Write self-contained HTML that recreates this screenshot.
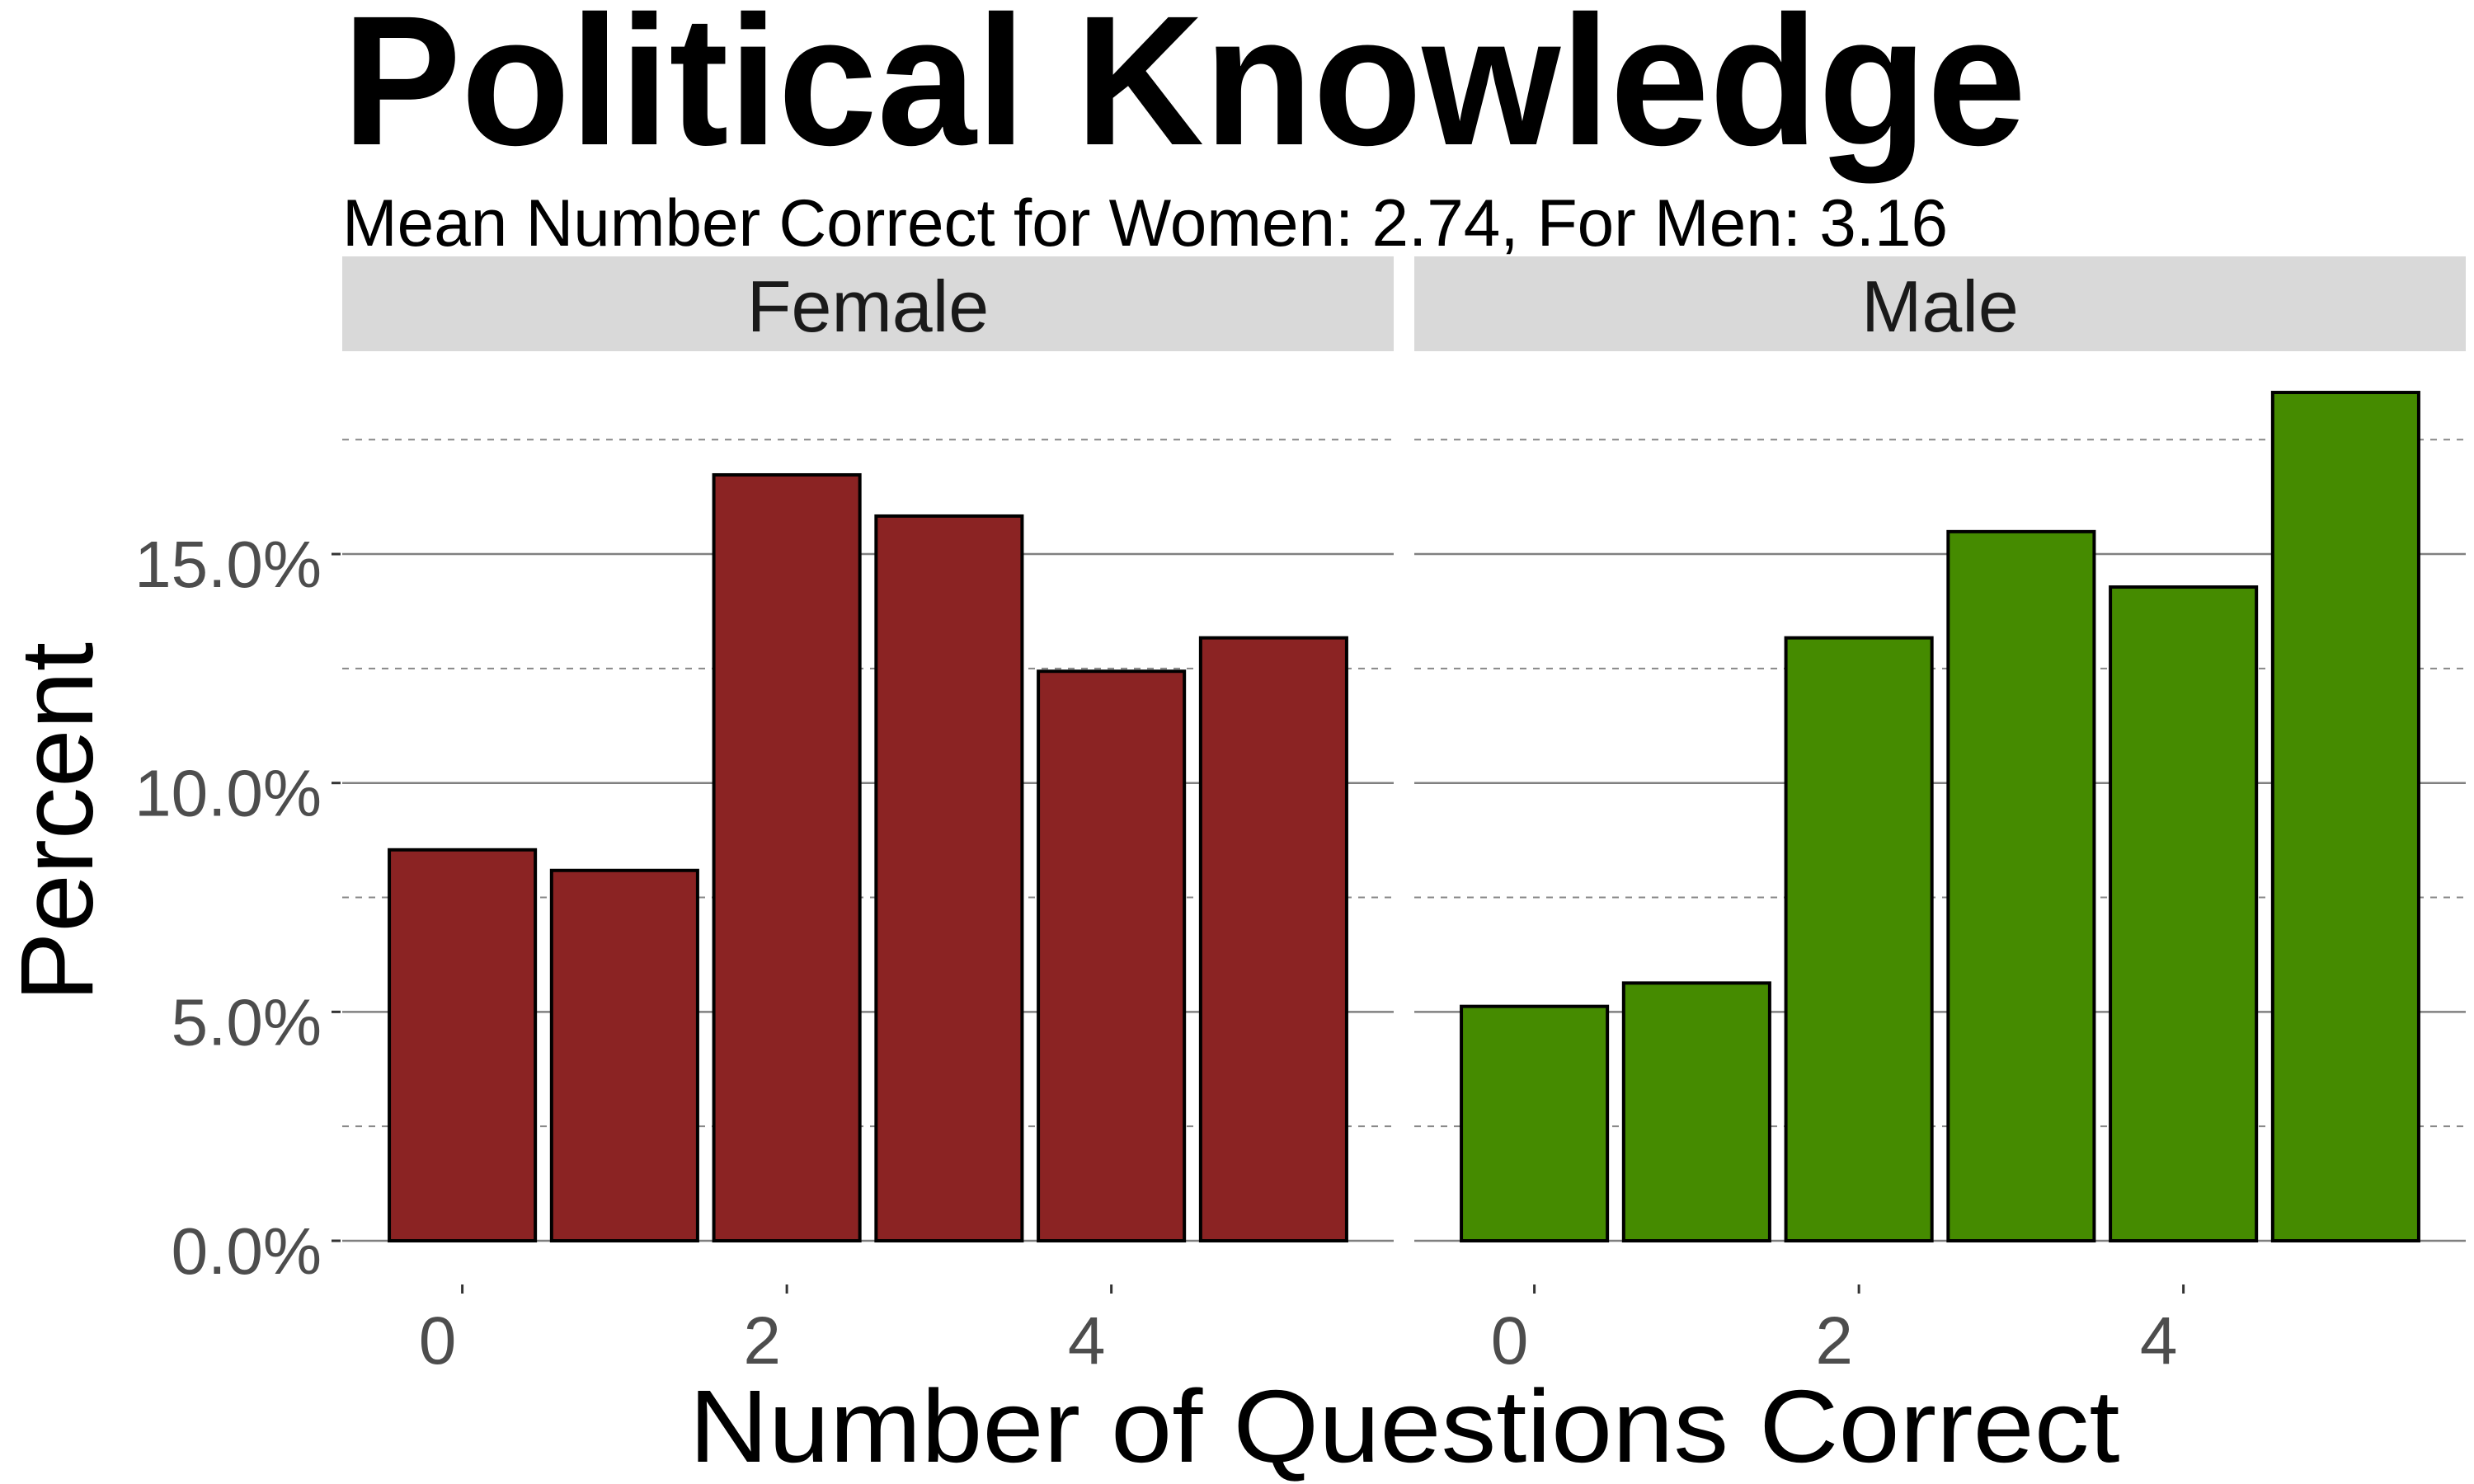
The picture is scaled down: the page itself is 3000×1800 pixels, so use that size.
<!DOCTYPE html>
<html><head><meta charset="utf-8"><style>html,body{margin:0;padding:0;background:#fff}svg{display:block}</style></head>
<body>
<svg id="chart" xmlns="http://www.w3.org/2000/svg" width="3000" height="1800" viewBox="0 0 3000 1800" font-family="Liberation Sans, sans-serif">
<rect width="3000" height="1800" fill="#fff"/>
<text x="415" y="175" font-size="224" font-weight="bold" textLength="2042" lengthAdjust="spacingAndGlyphs">Political Knowledge</text>
<text x="415" y="298" font-size="81" textLength="1947" lengthAdjust="spacingAndGlyphs">Mean Number Correct for Women: 2.74, For Men: 3.16</text>
<text transform="translate(112,997) rotate(-90)" text-anchor="middle" font-size="125" textLength="436" lengthAdjust="spacingAndGlyphs">Percent</text>
<text x="1703" y="1773" text-anchor="middle" font-size="125" textLength="1735" lengthAdjust="spacingAndGlyphs">Number of Questions Correct</text>
<g id="plot"></g>
</svg>
<script>
const categories = [0, 1, 2, 3, 4, 5];
const femaleValues = [8.54, 8.09, 16.73, 15.83, 12.44, 13.17];
const maleValues = [5.12, 5.63, 13.17, 15.49, 14.28, 18.53];
const yMajorTicks = [0, 5, 10, 15];
const yMinorTicks = [2.5, 7.5, 12.5, 17.5];
const yTickLabels = ["0.0%", "5.0%", "10.0%", "15.0%"];
const xTicks = [0, 2, 4];
const panelNames = ["Female", "Male"];

const NS = "http://www.w3.org/2000/svg";
const g = document.getElementById('plot');
const y0 = 1505, pxPerPct = 55.53, plotTop = 430;
const yScale = v => y0 - v * pxPerPct;
const panels = [
  {left: 415, right: 1690, values: femaleValues, fill: "#8B2323", key: "female"},
  {left: 1715, right: 2990, values: maleValues, fill: "#458B00", key: "male"}
];
const xMin = -0.74, xMax = 5.74;
function mk(tag, attrs) { const e = document.createElementNS(NS, tag); for (const k in attrs) e.setAttribute(k, attrs[k]); g.appendChild(e); return e; }

panels.forEach((p, pi) => {
  const xs = v => p.left + (v - xMin) / (xMax - xMin) * (p.right - p.left);
  // strip
  const s = mk('rect', {x: p.left, y: 311, width: p.right - p.left, height: 115, fill: "#d9d9d9"});
  
  
  const st = mk('text', {x: (p.left + p.right) / 2, y: 402, 'text-anchor': 'middle', 'font-size': 88, fill: "#1a1a1a"});
  st.textContent = panelNames[pi];
  
  
  // grid
  yMinorTicks.forEach(t => {
    const l = mk('line', {x1: p.left, x2: p.right, y1: yScale(t), y2: yScale(t), stroke: "#888", 'stroke-width': 2, 'stroke-dasharray': "8,8"});
    
    
  });
  yMajorTicks.forEach(t => {
    const l = mk('line', {x1: p.left, x2: p.right, y1: yScale(t), y2: yScale(t), stroke: "#808080", 'stroke-width': 2.5});
    
    
  });
  // bars
  categories.forEach((c, i) => {
    const v = p.values[i];
    const b = mk('rect', {x: xs(c - 0.45), y: yScale(v), width: xs(c + 0.45) - xs(c - 0.45), height: yScale(0) - yScale(v), fill: p.fill, stroke: "#000", 'stroke-width': 4});
    
    
  });
  // x ticks
  xTicks.forEach(t => {
    const tk = mk('line', {x1: xs(t), x2: xs(t), y1: 1558, y2: 1569, stroke: "#333", 'stroke-width': 3});
    
    
    const tl = mk('text', {x: xs(t) - 30, y: 1654, 'text-anchor': 'middle', 'font-size': 82, fill: "#4d4d4d"});
    tl.textContent = String(t);
    
    
  });
});
// y axis ticks & labels
yMajorTicks.forEach((t, i) => {
  const tk = mk('line', {x1: 402, x2: 413, y1: yScale(t), y2: yScale(t), stroke: "#333", 'stroke-width': 3});
  
  
  const tl = mk('text', {x: 390, y: yScale(t) + 40, 'text-anchor': 'end', 'font-size': 80, fill: "#4d4d4d"});
  tl.textContent = yTickLabels[i];
  
  
});
</script>
</body></html>
